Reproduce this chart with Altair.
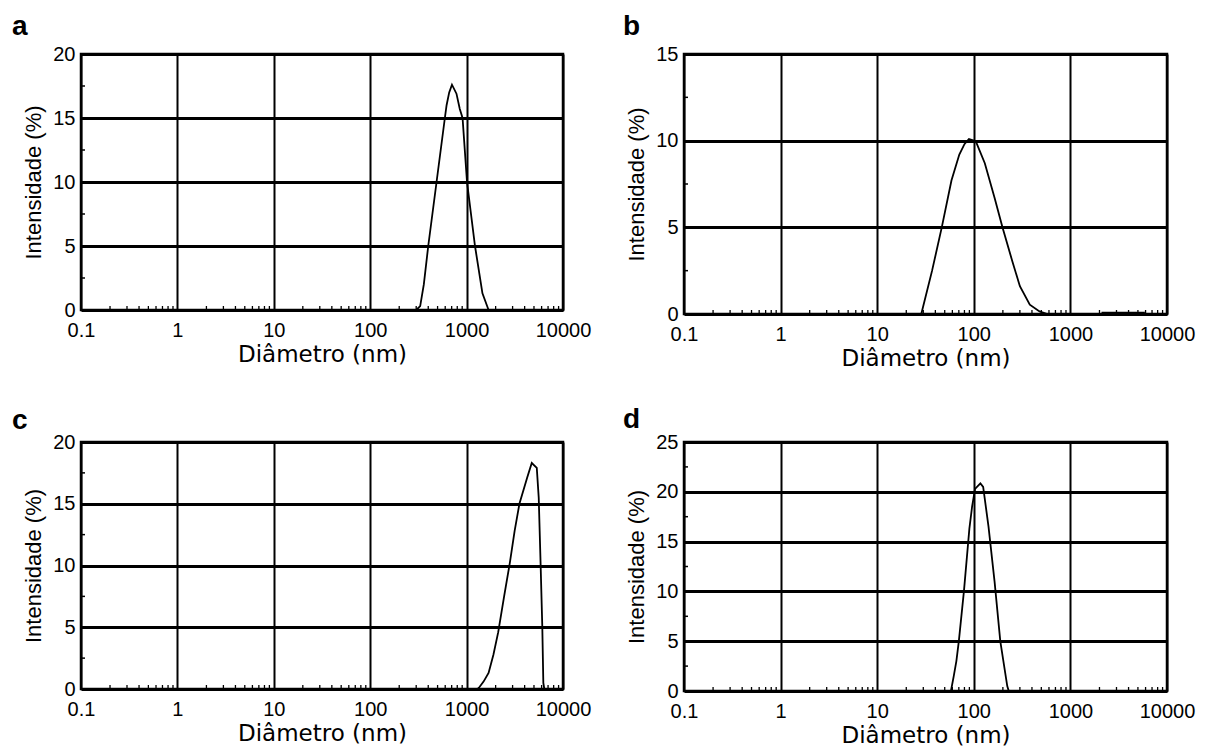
import altair as alt
import pandas as pd

# ---- data (diameter in nm, intensity in %) ----
A_D = [300, 330, 360, 400, 488, 595, 620, 660, 705, 785, 850, 908, 1010, 1222, 1460, 1690]
A_I = [0, 0.3, 2.0, 5.0, 10.0, 15.0, 16.0, 17.0, 17.6, 16.9, 15.7, 15.0, 10.0, 5.0, 1.3, 0]

B_D = [28.6, 37, 46.6, 58.7, 70.8, 80, 89, 100, 106, 130, 164, 198, 250, 300, 380, 479, 577]
B_I = [0, 2.5, 5.0, 7.7, 9.2, 9.8, 10.1, 10.0, 9.9, 8.7, 6.7, 5.0, 3.06, 1.6, 0.54, 0.15, 0]
B2_D = [2100, 5900]
B2_I = [0.05, 0.05]

C_D = [1300, 1343, 1500, 1690, 1900, 2128, 2450, 2806, 3150, 3532, 4246, 4742, 5346, 5600, 5863, 6100, 6250, 6400]
C_I = [0, 0.1, 0.6, 1.3, 2.8, 4.6, 7.5, 10.2, 12.8, 15.0, 17.1, 18.3, 17.9, 15.5, 10.0, 5.0, 0.5, 0]

D_D = [58, 62, 66, 70, 79, 90, 96, 103, 117, 125, 142, 164, 188, 222, 230]
D_I = [0, 1.5, 3.0, 5.0, 10.0, 16.3, 18.5, 20.3, 20.85, 20.5, 16.5, 11.0, 5.0, 0.5, 0]

MAJOR_X = [0.1, 1, 10, 100, 1000, 10000]
MINOR_X = [m * dec for dec in [0.1, 1, 10, 100, 1000] for m in range(2, 10)]

X_TITLE = "Diâmetro (nm)"
Y_TITLE = "Intensidade (%)"


def panel(letter, dvals, ivals, ymax, w, h, letter_dx, letter_dy, extra=None):
    xs = alt.Scale(type="log", domain=[0.1, 10000], nice=False)
    ys = alt.Scale(domain=[0, ymax], nice=False)
    major_y = list(range(0, ymax + 1, 5))
    minor_y = [v + 2.5 for v in major_y[:-1]]
    xax = alt.Axis(values=MAJOR_X, format="~g", title=X_TITLE,
                   titleFont="DejaVu Sans", titleFontSize=23,
                   labelPadding=10, titlePadding=3, labelFlush=False,
                   labelOverlap=False, gridWidth=2)
    yax = alt.Axis(values=major_y, title=Y_TITLE,
                   titleFont="Liberation Sans", titleFontSize=22,
                   labelPadding=6, titlePadding=7, gridWidth=3)

    def X():
        return alt.X("d:Q", scale=xs, axis=xax)

    def Y():
        return alt.Y("i:Q", scale=ys, axis=yax)

    df = pd.DataFrame({"d": dvals, "i": ivals})
    layers = [alt.Chart(df).mark_line(color="black", strokeWidth=1.8).encode(x=X(), y=Y())]
    if extra is not None:
        edf = pd.DataFrame({"d": extra[0], "i": extra[1]})
        layers.append(alt.Chart(edf).mark_line(color="black", strokeWidth=3).encode(x=X(), y=Y()))
    mx = alt.Chart(pd.DataFrame({"d": MINOR_X})).mark_rule(color="black", strokeWidth=1.3).encode(
        x=X(), y=alt.value(h - 4), y2=alt.value(h))
    my = alt.Chart(pd.DataFrame({"i": minor_y})).mark_rule(color="black", strokeWidth=1.5).encode(
        y=Y(), x=alt.value(0), x2=alt.value(4))
    lab = alt.Chart(pd.DataFrame({"t": [letter]})).mark_text(
        align="left", baseline="alphabetic", font="Liberation Sans", fontSize=28,
        fontWeight="bold", color="black").encode(
        text="t:N", x=alt.value(letter_dx), y=alt.value(letter_dy))
    layers += [mx, my, lab]
    return alt.layer(*layers).properties(width=w, height=h)


pa = panel("a", A_D, A_I, 20, 482, 256, -69, -19)
pb = panel("b", B_D, B_I, 15, 483, 260, -61, -19, extra=(B2_D, B2_I))
pc = panel("c", C_D, C_I, 20, 482, 247, -69, -13)
pd_ = panel("d", D_D, D_I, 25, 483, 249, -61, -14)

top = alt.hconcat(pa, pb, spacing=28)
bottom = alt.hconcat(pc, pd_, spacing=28)

chart = alt.vconcat(top, bottom, spacing=32).properties(
    padding={"left": 10, "top": 11, "right": 5, "bottom": 0},
    background="white",
).configure_view(
    stroke="black", strokeWidth=2.5
).configure_axis(
    domain=False, ticks=False, grid=True, gridColor="black",
    gridOpacity=1, labelColor="black", labelFont="Liberation Sans",
    labelFontSize=20, titleColor="black", titleFontWeight="normal",
)

chart.save("out.html", embed_options={"renderer": "svg", "actions": False})
